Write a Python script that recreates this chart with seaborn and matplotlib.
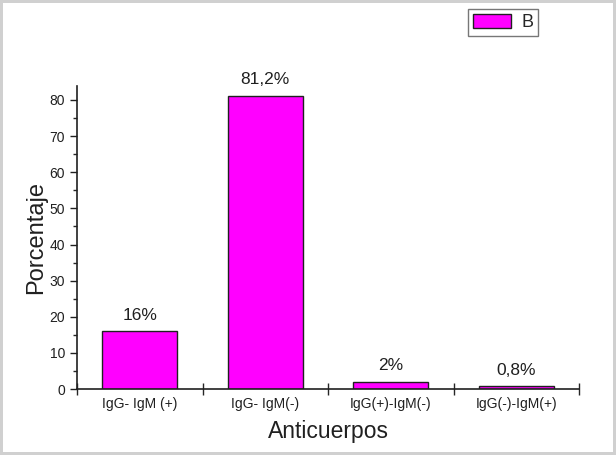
import matplotlib
matplotlib.use("Agg")
import matplotlib.pyplot as plt
import seaborn as sns
import pandas as pd
from matplotlib.ticker import MultipleLocator, FixedLocator

# datos
categorias = ['IgG- IgM (+)', 'IgG- IgM(-)', 'IgG(+)-IgM(-)', 'IgG(-)-IgM(+)']
porcentajes = [16, 81.2, 2, 0.8]
etiquetas = ['16%', '81,2%', '2%', '0,8%']

df = pd.DataFrame({'Anticuerpos': categorias, 'Porcentaje': porcentajes})

sns.set_style('ticks')
plt.rcParams['font.family'] = ['Liberation Sans', 'DejaVu Sans']

fig = plt.figure(figsize=(6.16, 4.55), dpi=100)
fig.patch.set_edgecolor('#d0d0d0')
fig.patch.set_linewidth(3)
ax = fig.add_axes([0.125, 0.145, 0.815, 0.667])

sns.barplot(x='Anticuerpos', y='Porcentaje', data=df, color='#ff00ff',
            edgecolor='#202020', linewidth=1, width=0.6, saturation=1,
            label='B', ax=ax)

for i, (v, t) in enumerate(zip(porcentajes, etiquetas)):
    ax.annotate(t, (i, v), xytext=(0, 6), textcoords='offset points',
                ha='center', va='bottom', fontsize=12.5, color='#202020')

ax.set_xlim(-0.5, 3.5)
ax.set_ylim(0, 84)
ax.yaxis.set_major_locator(MultipleLocator(10))
ax.yaxis.set_minor_locator(MultipleLocator(5))
ax.set_yticks(range(0, 81, 10))
ax.tick_params(axis='y', which='major', length=5, width=1, labelsize=10, colors='#202020')
ax.tick_params(axis='y', which='minor', length=3, width=1)

# ticks del eje x en los limites entre categorias, etiquetas al centro
ax.xaxis.set_major_locator(FixedLocator([-0.5, 0.5, 1.5, 2.5, 3.5]))
ax.xaxis.set_minor_locator(FixedLocator([0, 1, 2, 3]))
ax.set_xticklabels([])
ax.set_xticklabels(categorias, minor=True)
ax.tick_params(axis='x', which='major', direction='inout', length=8, width=1)
ax.tick_params(axis='x', which='minor', length=0, labelsize=10, colors='#202020', pad=6)

ax.set_xlabel('Anticuerpos', fontsize=16.5, color='#202020', labelpad=6)
ax.set_ylabel('Porcentaje', fontsize=17, color='#202020', labelpad=2)

sns.despine(ax=ax)
for s in ['left', 'bottom']:
    ax.spines[s].set_linewidth(1.2)
    ax.spines[s].set_color('#202020')

leg = ax.legend(loc='upper left', bbox_to_anchor=(0.779, 1.252), fontsize=13,
                frameon=True, fancybox=False, edgecolor='#555555',
                handlelength=2.1, handleheight=0.85, borderpad=0.25,
                handletextpad=0.6, borderaxespad=0)
leg.get_frame().set_linewidth(1)

fig.savefig('out.png', dpi=100, edgecolor=fig.get_edgecolor())
